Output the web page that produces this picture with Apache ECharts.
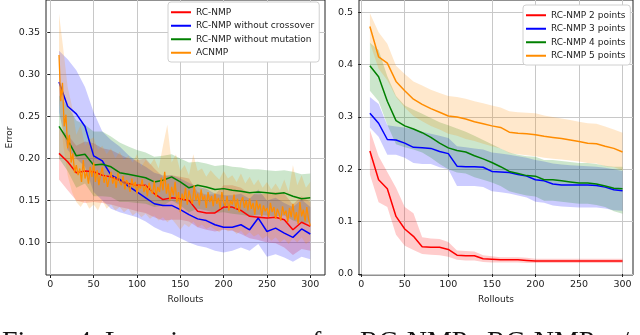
<!DOCTYPE html>
<html>
<head>
<meta charset="utf-8">
<script src="https://cdn.jsdelivr.net/npm/echarts@6/dist/echarts.min.js"></script>
<style>
  html, body { margin: 0; padding: 0; background: #fff; }
  #main { width: 640px; height: 335px; }
</style>
</head>
<body>
<div id="main"></div>
<script>
// x positions (rollouts)
var steps10 = [10, 20, 30, 40, 50, 60, 70, 80, 90, 100, 110, 120, 130, 140, 150,
  160, 170, 180, 190, 200, 210, 220, 230, 240, 250, 260, 270, 280, 290, 300];
var steps2 = [];
for (var s = 10; s <= 300; s += 2) steps2.push(s);
var steps5 = [];
for (var s = 10; s <= 300; s += 5) steps5.push(s);

// ---- left plot ----
var rcMean = [0.206, 0.196, 0.183, 0.185, 0.184, 0.180, 0.178, 0.174, 0.170, 0.168,
  0.168, 0.158, 0.151, 0.153, 0.152, 0.150, 0.137, 0.135, 0.135, 0.142,
  0.142, 0.138, 0.131, 0.130, 0.129, 0.130, 0.127, 0.115, 0.124, 0.119];
var rcLow = [0.175, 0.162, 0.150, 0.147, 0.148, 0.147, 0.145, 0.142, 0.140, 0.137,
  0.135, 0.130, 0.126, 0.127, 0.127, 0.125, 0.118, 0.115, 0.113, 0.115,
  0.114, 0.110, 0.105, 0.103, 0.100, 0.099, 0.094, 0.085, 0.092, 0.090];
var rcHigh = [0.236, 0.228, 0.215, 0.220, 0.218, 0.212, 0.210, 0.205, 0.200, 0.198,
  0.200, 0.188, 0.178, 0.180, 0.178, 0.176, 0.160, 0.157, 0.157, 0.168,
  0.168, 0.165, 0.158, 0.157, 0.158, 0.160, 0.158, 0.145, 0.155, 0.148];

var noCrossMean = [0.291, 0.262, 0.253, 0.238, 0.203, 0.197, 0.180, 0.175, 0.167, 0.160,
  0.153, 0.146, 0.144, 0.144, 0.139, 0.133, 0.128, 0.126, 0.121, 0.118,
  0.118, 0.121, 0.115, 0.129, 0.113, 0.117, 0.111, 0.106, 0.116, 0.110];
var noCrossLow = [0.255, 0.210, 0.200, 0.190, 0.160, 0.150, 0.140, 0.136, 0.133, 0.130,
  0.125, 0.118, 0.113, 0.110, 0.105, 0.100, 0.096, 0.094, 0.090, 0.088,
  0.090, 0.094, 0.090, 0.098, 0.083, 0.086, 0.082, 0.077, 0.083, 0.080];
var noCrossHigh = [0.328, 0.318, 0.305, 0.285, 0.255, 0.232, 0.222, 0.214, 0.204, 0.196,
  0.190, 0.183, 0.180, 0.180, 0.176, 0.171, 0.166, 0.164, 0.158, 0.156,
  0.156, 0.158, 0.152, 0.163, 0.150, 0.153, 0.147, 0.142, 0.151, 0.142];

var noMutMean = [0.238, 0.222, 0.203, 0.205, 0.192, 0.193, 0.190, 0.183, 0.181, 0.179,
  0.177, 0.172, 0.174, 0.178, 0.172, 0.165, 0.168, 0.166, 0.163, 0.164,
  0.162, 0.161, 0.159, 0.160, 0.159, 0.158, 0.159, 0.155, 0.152, 0.153];
var noMutLow = [0.200, 0.185, 0.165, 0.170, 0.155, 0.155, 0.154, 0.148, 0.148, 0.147,
  0.146, 0.142, 0.144, 0.150, 0.144, 0.136, 0.140, 0.138, 0.135, 0.136,
  0.134, 0.133, 0.131, 0.133, 0.132, 0.131, 0.132, 0.126, 0.123, 0.124];
var noMutHigh = [0.275, 0.262, 0.245, 0.240, 0.232, 0.232, 0.226, 0.219, 0.214, 0.210,
  0.207, 0.202, 0.203, 0.205, 0.200, 0.195, 0.196, 0.194, 0.191, 0.192,
  0.190, 0.189, 0.187, 0.187, 0.186, 0.185, 0.186, 0.184, 0.181, 0.182];

// ACNMP, every 2 rollouts
var acnmp = [0.323, 0.268, 0.290, 0.238, 0.252, 0.212, 0.228, 0.195, 0.206, 0.183,
  0.192, 0.180, 0.188, 0.172, 0.198, 0.176, 0.184, 0.170, 0.190, 0.178,
  0.195, 0.172, 0.186, 0.168, 0.181, 0.190, 0.171, 0.180, 0.166, 0.176,
  0.184, 0.170, 0.178, 0.165, 0.183, 0.172, 0.168, 0.179, 0.163, 0.174,
  0.170, 0.160, 0.176, 0.166, 0.172, 0.158, 0.169, 0.164, 0.175, 0.160,
  0.168, 0.155, 0.171, 0.162, 0.158, 0.173, 0.154, 0.166, 0.160, 0.177,
  0.162, 0.184, 0.158, 0.170, 0.150, 0.166, 0.156, 0.172, 0.148, 0.160,
  0.136, 0.158, 0.150, 0.165, 0.145, 0.162, 0.152, 0.146, 0.168, 0.150,
  0.158, 0.144, 0.163, 0.150, 0.156, 0.141, 0.160, 0.148, 0.155, 0.143,
  0.158, 0.146, 0.153, 0.140, 0.160, 0.148, 0.143, 0.155, 0.138, 0.150,
  0.145, 0.157, 0.140, 0.152, 0.136, 0.149, 0.154, 0.141, 0.150, 0.138,
  0.152, 0.140, 0.147, 0.133, 0.150, 0.139, 0.146, 0.131, 0.144, 0.137,
  0.141, 0.130, 0.147, 0.136, 0.142, 0.128, 0.140, 0.134, 0.126, 0.143,
  0.133, 0.138, 0.124, 0.141, 0.130, 0.146, 0.127, 0.136, 0.122, 0.148,
  0.131, 0.139, 0.125, 0.142, 0.128, 0.120];
// ACNMP band, every 5 rollouts
var acnmpHigh = [0.372, 0.330, 0.285, 0.262, 0.228, 0.240, 0.215, 0.222, 0.225, 0.210,
  0.215, 0.205, 0.212, 0.200, 0.208, 0.198, 0.203, 0.195, 0.205, 0.190,
  0.198, 0.192, 0.200, 0.188, 0.215, 0.240, 0.195, 0.205, 0.185, 0.192,
  0.180, 0.205, 0.185, 0.188, 0.178, 0.186, 0.180, 0.175, 0.185, 0.176,
  0.180, 0.172, 0.182, 0.170, 0.178, 0.168, 0.175, 0.165, 0.172, 0.163,
  0.170, 0.162, 0.175, 0.160, 0.192, 0.168, 0.180, 0.165, 0.172];
var acnmpLow = [0.270, 0.215, 0.180, 0.160, 0.148, 0.142, 0.150, 0.140, 0.145, 0.138,
  0.150, 0.140, 0.145, 0.138, 0.142, 0.136, 0.140, 0.132, 0.136, 0.130,
  0.134, 0.128, 0.132, 0.126, 0.130, 0.124, 0.128, 0.122, 0.115, 0.122,
  0.118, 0.125, 0.118, 0.121, 0.116, 0.119, 0.115, 0.112, 0.117, 0.113,
  0.115, 0.110, 0.114, 0.108, 0.112, 0.107, 0.110, 0.104, 0.108, 0.102,
  0.106, 0.100, 0.104, 0.098, 0.105, 0.100, 0.106, 0.098, 0.102];

// ---- right plot ----
var p2Mean = [0.235, 0.180, 0.163, 0.110, 0.086, 0.072, 0.052, 0.051, 0.051, 0.047,
  0.036, 0.035, 0.035, 0.029, 0.028, 0.027, 0.027, 0.027, 0.026, 0.025,
  0.025, 0.025, 0.025, 0.025, 0.025, 0.025, 0.025, 0.025, 0.025, 0.025];
var p2Low = [0.190, 0.137, 0.128, 0.075, 0.054, 0.046, 0.038, 0.037, 0.036, 0.033,
  0.027, 0.026, 0.026, 0.023, 0.022, 0.022, 0.022, 0.022, 0.021, 0.021,
  0.021, 0.021, 0.021, 0.021, 0.021, 0.021, 0.021, 0.021, 0.021, 0.021];
var p2High = [0.275, 0.225, 0.195, 0.165, 0.128, 0.116, 0.070, 0.068, 0.067, 0.061,
  0.045, 0.044, 0.043, 0.036, 0.034, 0.032, 0.032, 0.032, 0.031, 0.029,
  0.029, 0.029, 0.029, 0.029, 0.029, 0.029, 0.029, 0.029, 0.029, 0.029];

var p3Mean = [0.307, 0.288, 0.257, 0.256, 0.250, 0.242, 0.241, 0.240, 0.234, 0.230,
  0.206, 0.205, 0.205, 0.204, 0.196, 0.195, 0.194, 0.190, 0.187, 0.180,
  0.178, 0.172, 0.170, 0.170, 0.170, 0.170, 0.169, 0.166, 0.161, 0.159];
var p3Low = [0.280, 0.262, 0.228, 0.228, 0.222, 0.212, 0.210, 0.210, 0.204, 0.200,
  0.168, 0.168, 0.168, 0.166, 0.158, 0.156, 0.154, 0.150, 0.146, 0.138,
  0.136, 0.131, 0.129, 0.128, 0.127, 0.127, 0.127, 0.125, 0.122, 0.121];
var p3High = [0.338, 0.325, 0.284, 0.282, 0.280, 0.276, 0.272, 0.268, 0.264, 0.260,
  0.244, 0.242, 0.240, 0.238, 0.232, 0.230, 0.228, 0.225, 0.222, 0.218,
  0.215, 0.211, 0.209, 0.208, 0.207, 0.206, 0.205, 0.203, 0.200, 0.197];

var p4Mean = [0.398, 0.377, 0.330, 0.293, 0.283, 0.277, 0.270, 0.261, 0.250, 0.241,
  0.236, 0.233, 0.226, 0.220, 0.213, 0.205, 0.196, 0.192, 0.188, 0.187,
  0.180, 0.180, 0.178, 0.176, 0.174, 0.174, 0.172, 0.168, 0.164, 0.163];
var p4Low = [0.350, 0.330, 0.285, 0.248, 0.242, 0.238, 0.232, 0.222, 0.210, 0.200,
  0.194, 0.192, 0.185, 0.180, 0.175, 0.168, 0.158, 0.154, 0.150, 0.148,
  0.140, 0.140, 0.138, 0.136, 0.134, 0.134, 0.132, 0.128, 0.120, 0.115];
var p4High = [0.442, 0.428, 0.378, 0.340, 0.322, 0.314, 0.306, 0.298, 0.290, 0.284,
  0.278, 0.272, 0.264, 0.256, 0.248, 0.240, 0.232, 0.228, 0.225, 0.224,
  0.218, 0.218, 0.216, 0.214, 0.212, 0.212, 0.210, 0.207, 0.205, 0.205];

var p5Mean = [0.473, 0.415, 0.403, 0.368, 0.350, 0.334, 0.324, 0.316, 0.309, 0.302,
  0.300, 0.296, 0.291, 0.287, 0.283, 0.280, 0.271, 0.269, 0.268, 0.266,
  0.263, 0.261, 0.259, 0.256, 0.253, 0.250, 0.249, 0.244, 0.240, 0.233];
var p5Low = [0.442, 0.392, 0.370, 0.338, 0.318, 0.302, 0.292, 0.283, 0.276, 0.268,
  0.264, 0.258, 0.254, 0.249, 0.244, 0.240, 0.231, 0.229, 0.227, 0.225,
  0.222, 0.220, 0.219, 0.217, 0.215, 0.212, 0.211, 0.206, 0.204, 0.198];
var p5High = [0.498, 0.462, 0.440, 0.398, 0.382, 0.368, 0.360, 0.352, 0.346, 0.340,
  0.338, 0.335, 0.330, 0.326, 0.322, 0.318, 0.311, 0.309, 0.308, 0.307,
  0.303, 0.300, 0.297, 0.294, 0.291, 0.288, 0.287, 0.282, 0.276, 0.270];

var xTicks = [0, 50, 100, 150, 200, 250, 300];
var leftYTicks = [0.10, 0.15, 0.20, 0.25, 0.30, 0.35];
var rightYTicks = [0.0, 0.1, 0.2, 0.3, 0.4, 0.5];

var RED = '#ff0000', BLUE = '#0000ff', GREEN = '#008000', ORANGE = '#ff8c00';
var FONT = 'DejaVu Sans';

var chartDom = document.getElementById('main');
var myChart = echarts.init(chartDom, null, { renderer: 'canvas' });

function pairs(xs, ys) {
  return xs.map(function (x, i) { return [x, ys[i]]; });
}

function line(name, xs, ys, color, idx, z, w) {
  return {
    name: name, type: 'line', xAxisIndex: idx, yAxisIndex: idx,
    data: pairs(xs, ys), showSymbol: false, symbol: 'none',
    lineStyle: { color: color, width: w || 1.5 }, itemStyle: { color: color },
    z: z || 3, silent: true
  };
}

function band(xs, lo, hi, color, idx) {
  return {
    type: 'custom', xAxisIndex: idx, yAxisIndex: idx, silent: true, z: 2,
    data: xs.map(function (x, i) { return [x, lo[i], hi[i]]; }),
    encode: { x: 0, y: [1, 2] },
    renderItem: function (params, api) {
      if (params.dataIndex !== 0) return;
      var pts = [];
      for (var i = 0; i < xs.length; i++) pts.push(api.coord([xs[i], hi[i]]));
      for (var j = xs.length - 1; j >= 0; j--) pts.push(api.coord([xs[j], lo[j]]));
      return {
        type: 'polygon', shape: { points: pts },
        style: { fill: color, opacity: 0.2 }
      };
    }
  };
}

function xAxisFor(idx, min, max) {
  return {
    type: 'value', gridIndex: idx, min: min, max: max,
    name: 'Rollouts', nameLocation: 'middle', nameGap: 19,
    nameTextStyle: { fontFamily: FONT, fontSize: 9, color: '#222' },
    axisLine: { show: false },
    axisTick: { show: true, length: 3, customValues: xTicks, lineStyle: { color: '#222' } },
    axisLabel: { customValues: xTicks, fontFamily: FONT, fontSize: 9.5, color: '#222', margin: 5 },
    splitLine: { show: true, lineStyle: { color: '#c8c8c8', width: 1 } }
  };
}

function yAxisFor(idx, min, max, ticks, fmt, name) {
  return {
    type: 'value', gridIndex: idx, min: min, max: max,
    name: name || '', nameLocation: 'middle', nameGap: 32, nameRotate: 90,
    nameTextStyle: { fontFamily: FONT, fontSize: 9, color: '#222' },
    axisLine: { show: false },
    axisTick: { show: true, length: 3, customValues: ticks, lineStyle: { color: '#222' } },
    axisLabel: {
      customValues: ticks, fontFamily: FONT, fontSize: 9.5, color: '#222', margin: 6,
      formatter: function (v) { return v.toFixed(fmt); }
    },
    splitLine: { show: true, lineStyle: { color: '#c8c8c8', width: 1 } }
  };
}

var legendBase = {
  orient: 'vertical', icon: 'rect', itemWidth: 20, itemHeight: 2, itemGap: 1,
  backgroundColor: '#ffffff', borderColor: '#d0d0d0', borderWidth: 1, borderRadius: 3,
  padding: [4, 5, 3, 3],
  textStyle: { fontFamily: FONT, fontSize: 9, color: '#222', lineHeight: 12.5 }
};

var caption = [
  ['Fig.', 2], ['4.', 77], ['Learning', 105], ['curves', 222], ['for', 312],
  ['RC-NMP,', 360], ['RC-NMP', 487], ['w/', 601]
];

var option = {
  animation: false,
  backgroundColor: '#ffffff',
  grid: [
    { left: 46, top: 0, width: 279, height: 275, show: true, borderColor: '#222', borderWidth: 1 },
    { left: 359, top: 0, width: 274, height: 275, show: true, borderColor: '#222', borderWidth: 1 }
  ],
  xAxis: [xAxisFor(0, -5, 317), xAxisFor(1, -2.5, 312)],
  yAxis: [
    yAxisFor(0, 0.0612, 0.3885, leftYTicks, 2, 'Error'),
    yAxisFor(1, -0.0019, 0.5235, rightYTicks, 1)
  ],
  legend: [
    Object.assign({}, legendBase, {
      left: 168, top: 2,
      data: ['RC-NMP', 'RC-NMP without crossover', 'RC-NMP without mutation', 'ACNMP']
    }),
    Object.assign({}, legendBase, {
      left: 523, top: 5,
      data: ['RC-NMP 2 points', 'RC-NMP 3 points', 'RC-NMP 4 points', 'RC-NMP 5 points']
    })
  ],
  graphic: caption.map(function (w) {
    return {
      type: 'text', left: w[1], top: 329,
      style: { text: w[0], font: '28px "Liberation Serif"', fill: '#111' }
    };
  }),
  series: [
    band(steps10, rcLow, rcHigh, RED, 0),
    band(steps10, noCrossLow, noCrossHigh, BLUE, 0),
    band(steps10, noMutLow, noMutHigh, GREEN, 0),
    band(steps5, acnmpLow, acnmpHigh, ORANGE, 0),
    line('RC-NMP', steps10, rcMean, RED, 0),
    line('RC-NMP without crossover', steps10, noCrossMean, BLUE, 0),
    line('RC-NMP without mutation', steps10, noMutMean, GREEN, 0),
    line('ACNMP', steps2, acnmp, ORANGE, 0, 4, 1.3),

    band(steps10, p2Low, p2High, RED, 1),
    band(steps10, p3Low, p3High, BLUE, 1),
    band(steps10, p4Low, p4High, GREEN, 1),
    band(steps10, p5Low, p5High, ORANGE, 1),
    line('RC-NMP 2 points', steps10, p2Mean, RED, 1),
    line('RC-NMP 3 points', steps10, p3Mean, BLUE, 1),
    line('RC-NMP 4 points', steps10, p4Mean, GREEN, 1),
    line('RC-NMP 5 points', steps10, p5Mean, ORANGE, 1)
  ]
};

option && myChart.setOption(option);
</script>
</body>
</html>
